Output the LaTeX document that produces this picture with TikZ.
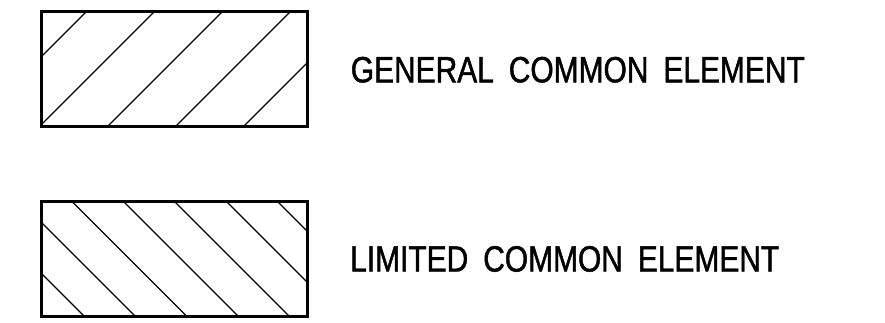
\documentclass[tikz,border=0pt]{standalone}
\usepackage{fontspec}
\setmainfont{Liberation Sans}[FakeStretch=0.82,WordSpace=1.8,FakeBold=1.2]
\begin{document}
\begin{tikzpicture}[x=1pt,y=-1pt,
  legendbox/.style={draw=black,line width=3pt,line join=miter},
  hatchline/.style={draw=black,line width=1.2pt},
  legendlabel/.style={anchor=base west,inner sep=0pt,font=\fontsize{36.5}{42}\selectfont}]
\useasboundingbox (0,0) rectangle (885,323);

% general common element: hatching rising to the right
\begin{scope}
  \clip (41,12) rectangle (307,127);
  \foreach \c in {98,166,234,302,370}
    \draw[hatchline] (\c-150,150) -- (\c+20,-20);
\end{scope}
\draw[legendbox] (41,12) rectangle (307,127);
\node[legendlabel] (general) at (350.6,82.3) {GENERAL COMMON ELEMENT};

% limited common element: hatching falling to the right
\begin{scope}
  \clip (41,201) rectangle (307,316);
  \foreach \c in {-232,-181,-129.5,-78,-27,25,76}
    \draw[hatchline] (\c+180,180) -- (\c+340,340);
\end{scope}
\draw[legendbox] (41,201) rectangle (307,316);
\node[legendlabel] (limited) at (350,271.5) {LIMITED COMMON ELEMENT};
\end{tikzpicture}
\end{document}
